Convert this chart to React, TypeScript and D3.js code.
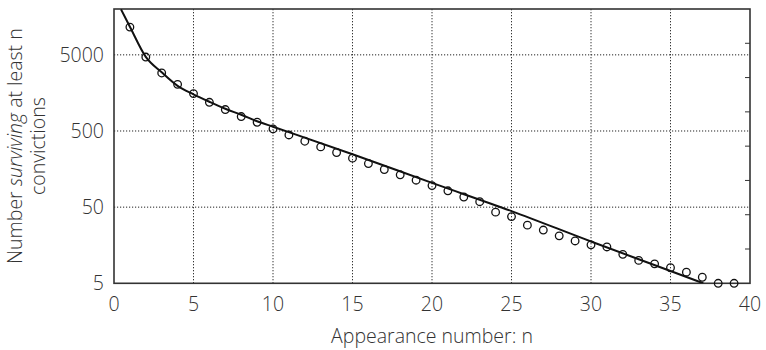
import React from "react";
import * as d3 from "d3";

// Observed counts: number of offenders with at least n convictions
const appearance: number[] = [
  1, 2, 3, 4, 5, 6, 7, 8, 9, 10, 11, 12, 13, 14, 15, 16, 17, 18, 19, 20,
  21, 22, 23, 24, 25, 26, 27, 28, 29, 30, 31, 32, 33, 34, 35, 36, 37, 38, 39,
];
const surviving: number[] = [
  11570, 4680, 2890, 2050, 1550, 1190, 956, 774, 651, 532, 444, 367, 309, 261,
  220, 187, 156, 133, 113, 96, 82, 68, 59, 43, 37.6, 29, 25, 21, 18, 16, 15, 12,
  10, 9, 8, 7, 6, 5, 5,
];

// Fitted survival curve
const fitN: number[] = [0.44, 1, 2, 3, 4, 5, 6, 7, 8, 9, 10, 15, 20, 25, 30, 35, 37.06];
const fitValue: number[] = [
  19800, 11700, 4700, 2950, 1960, 1517, 1210, 979, 817, 671, 569, 248, 104,
  44.4, 17.7, 7.25, 5,
];

const xTicks: number[] = [0, 5, 10, 15, 20, 25, 30, 35, 40];
const yTicks: number[] = [5, 50, 500, 5000];

const W = 766;
const H = 350;
const M = { left: 114, right: 16, top: 9, bottom: 66.7 };
const FONT = "'Open Sans', sans-serif";
const TEXT = "#333";

export default function App() {
  const x = d3.scaleLinear().domain([0, 40]).range([M.left, W - M.right]);
  const y = d3.scaleLog().domain([5, 20000]).range([H - M.bottom, M.top]);
  const right = d3.scaleLinear().domain([0, 8]).range([H - M.bottom, M.top]);

  const fit = fitN.map((n, i) => [n, fitValue[i]] as [number, number]);
  const line = d3
    .line<[number, number]>()
    .x((d) => x(d[0]))
    .y((d) => y(d[1]))
    .curve(d3.curveMonotoneX);

  const x0 = M.left;
  const x1 = W - M.right;
  const y0 = H - M.bottom;
  const y1 = M.top;

  return (
    <svg
      width={W}
      height={H}
      style={{ position: "absolute", left: 0, top: 0, background: "#fff" }}
      fontFamily={FONT}
      fontWeight={300}
    >
      <defs>
        <clipPath id="plot">
          <rect x={x0} y={y1} width={x1 - x0} height={y0 - y1} />
        </clipPath>
      </defs>

      {/* dotted grid */}
      <g stroke="#222" strokeWidth={1} strokeDasharray="1.2 1.8">
        {xTicks
          .filter((t) => t > 0 && t < 40)
          .map((t) => (
            <line key={`gx${t}`} x1={x(t)} x2={x(t)} y1={y0} y2={y1} />
          ))}
        {yTicks
          .filter((t) => t > 5)
          .map((t) => (
            <line key={`gy${t}`} x1={x0} x2={x1} y1={y(t)} y2={y(t)} />
          ))}
      </g>

      {/* right-hand minor ticks */}
      <g stroke="#333" strokeWidth={1}>
        {right.ticks(8)
          .filter((t) => t > 0 && t < 8)
          .map((t) => (
            <line key={`rt${t}`} x1={x1} x2={x1 - 5} y1={right(t)} y2={right(t)} />
          ))}
      </g>

      {/* frame */}
      <rect
        x={x0}
        y={y1}
        width={x1 - x0}
        height={y0 - y1}
        fill="none"
        stroke="#333"
        strokeWidth={1.6}
      />

      {/* fitted curve */}
      <path
        d={line(fit) ?? ""}
        fill="none"
        stroke="#111"
        strokeWidth={2}
        clipPath="url(#plot)"
      />

      {/* observed points */}
      <g fill="none" stroke="#111" strokeWidth={1.3}>
        {appearance.map((n, i) => (
          <circle key={`p${n}`} cx={x(n)} cy={y(surviving[i])} r={3.8} />
        ))}
      </g>

      {/* tick labels */}
      <g fill={TEXT} fontSize={19.5}>
        {xTicks.map((t) => (
          <text key={`xl${t}`} x={x(t)} y={311} textAnchor="middle">
            {t}
          </text>
        ))}
        {yTicks.map((t) => (
          <text key={`yl${t}`} x={104} y={y(t)} dy="0.36em" textAnchor="end">
            {t}
          </text>
        ))}
      </g>

      {/* axis titles */}
      <text
        x={(x0 + x1) / 2}
        y={343}
        textAnchor="middle"
        fill={TEXT}
        fontSize={19.5}
      >
        Appearance number: n
      </text>
      <g transform={`translate(0, ${(y0 + y1) / 2}) rotate(-90)`} fill={TEXT} fontSize={19.5}>
        <text x={0} y={21.5} textAnchor="middle">
          Number <tspan fontStyle="italic">surviving</tspan> at least n
        </text>
        <text x={0} y={45} textAnchor="middle">
          convictions
        </text>
      </g>
    </svg>
  );
}
